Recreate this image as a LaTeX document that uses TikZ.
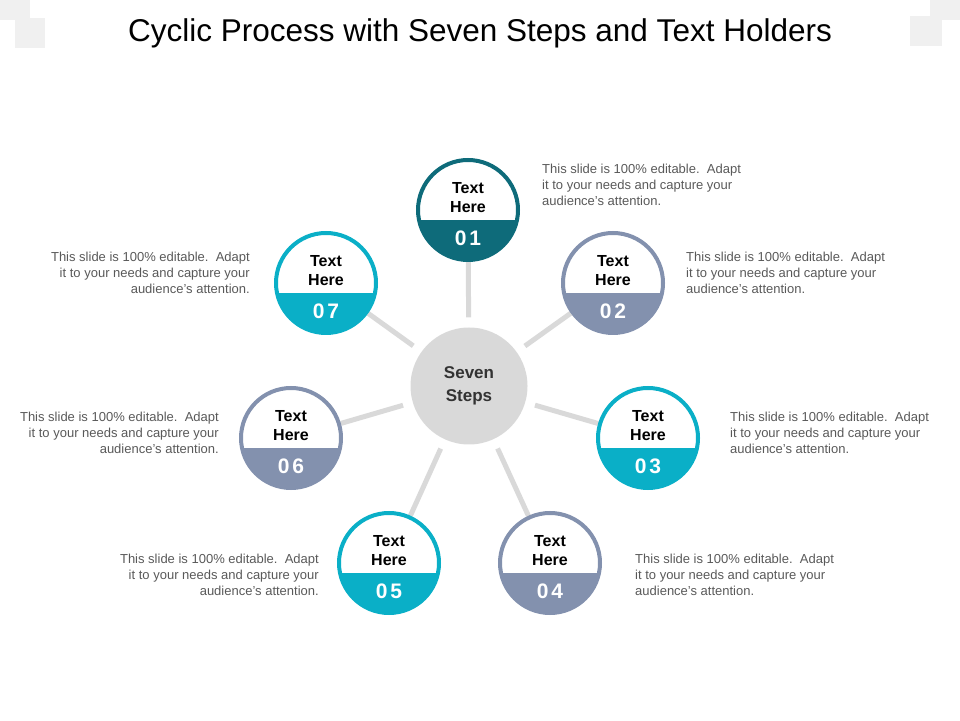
\documentclass[tikz,border=0pt]{standalone}
\usepackage{fontspec}
\setmainfont{Liberation Sans}
\usetikzlibrary{backgrounds}
\definecolor{cteal}{HTML}{0E6B7A}
\definecolor{cgray}{HTML}{8391AE}
\definecolor{ccyan}{HTML}{0AAFC7}
\definecolor{clink}{HTML}{D9D9D9}
\definecolor{ctext}{HTML}{595959}
\tikzset{
  stepc/.style={circle, minimum size=100pt, inner sep=0pt, draw=#1, line width=4pt, fill=white,
    path picture={\fill[#1] ([yshift=-10pt]path picture bounding box.west) rectangle (path picture bounding box.south east);}},
  link/.style={draw=clink, line width=5pt, shorten <=10pt, shorten >=0pt},
  lbl/.style={font=\bfseries\fontsize{16}{19}\selectfont, align=center, text=black},
  num/.style={font=\bfseries\fontsize{21}{24}\selectfont, text=white},
  descl/.style={font=\fontsize{13}{16}\selectfont, align=left, text=ctext, anchor=north west, inner sep=0pt},
  descr/.style={font=\fontsize{13}{16}\selectfont, align=right, text=ctext, anchor=north east, inner sep=0pt},
}
\newcommand{\stp}[5]{%
  \node[stepc=#4] (#1) at (#2,#3) {};
  \node[lbl] (#1t) at (#2,#3+12) {Text\\Here};
  \node[num] (#1n) at (#2,#3-28) {0\hspace{3pt}#5};
}
\begin{document}
\begin{tikzpicture}[x=1pt,y=1pt]
\useasboundingbox (0,0) rectangle (960,720);
\fill[gray!12] (0,700) rectangle (30,720);
\fill[gray!12] (15,672) rectangle (45,702);
\fill[gray!12] (930,700) rectangle (960,720);
\fill[gray!12] (910,674) rectangle (942,704);
\node[font=\fontsize{31.5}{36}\selectfont] (title) at (480,687) {Cyclic Process with Seven Steps and Text Holders};
\node[circle, fill=clink, minimum size=117pt, inner sep=0pt, font=\bfseries\fontsize{17}{23}\selectfont, text=black!80, align=center] (c) at (469,334) {Seven\\Steps};
\stp{s1}{468}{510}{cteal}{1}
\stp{s2}{613}{437}{cgray}{2}
\stp{s3}{648}{282}{ccyan}{3}
\stp{s4}{550}{157}{cgray}{4}
\stp{s5}{389}{157}{ccyan}{5}
\stp{s6}{291}{282}{cgray}{6}
\stp{s7}{326}{437}{ccyan}{7}
\begin{scope}[on background layer]
\foreach \s in {s1,s2,s3,s4,s5,s6,s7} \draw[link] (c) -- (\s);
\end{scope}
\node[descl] (d1) at (542,556) {This slide is 100\% editable.\ \ Adapt\\it to your needs and capture your\\audience's attention.};
\node[descl] (d2) at (686,468) {This slide is 100\% editable.\ \ Adapt\\it to your needs and capture your\\audience's attention.};
\node[descl] (d3) at (730,308) {This slide is 100\% editable.\ \ Adapt\\it to your needs and capture your\\audience's attention.};
\node[descl] (d4) at (635,166) {This slide is 100\% editable.\ \ Adapt\\it to your needs and capture your\\audience's attention.};
\node[descr] (d5) at (319,166) {This slide is 100\% editable.\ \ Adapt\\it to your needs and capture your\\audience's attention.};
\node[descr] (d6) at (219,308) {This slide is 100\% editable.\ \ Adapt\\it to your needs and capture your\\audience's attention.};
\node[descr] (d7) at (250,468) {This slide is 100\% editable.\ \ Adapt\\it to your needs and capture your\\audience's attention.};
\end{tikzpicture}
\end{document}
